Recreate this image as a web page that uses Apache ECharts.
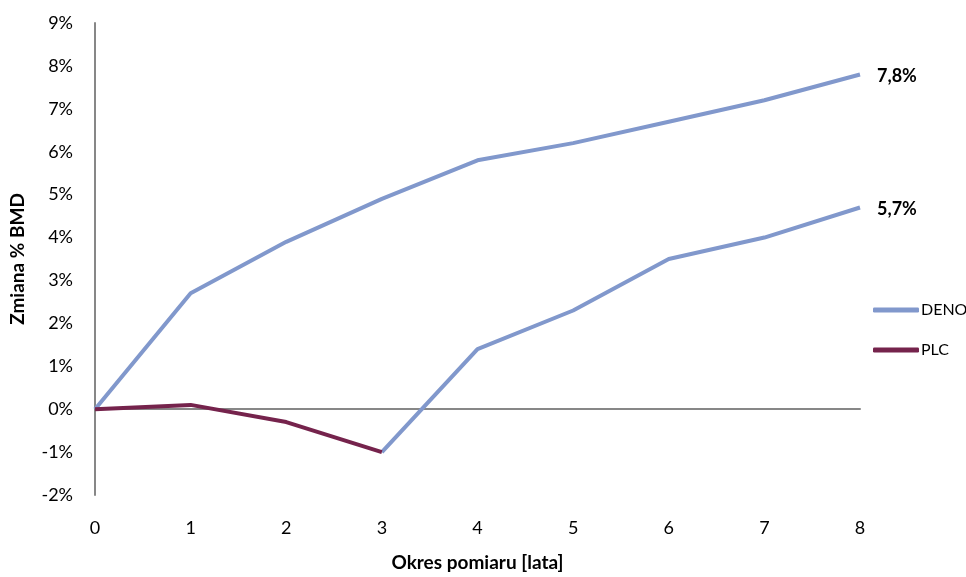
<!DOCTYPE html>
<html>
<head>
<meta charset="utf-8">
<script src="https://cdn.jsdelivr.net/npm/echarts@6/dist/echarts.min.js"></script>
<style>
  html, body { margin: 0; padding: 0; background: #fff; }
  #chart { width: 966px; height: 577px; }
</style>
</head>
<body>
<div id="chart"></div>
<script>
// Measurement years
const years = [0, 1, 2, 3, 4, 5, 6, 7, 8];
// % change in BMD, long-term denosumab group
const denoLongTerm = [0, 2.7, 3.9, 4.9, 5.8, 6.2, 6.7, 7.2, 7.8];
// % change in BMD, crossover group after switching to denosumab (from year 3)
const denoCrossover = [null, null, null, -1.0, 1.4, 2.3, 3.5, 4.0, 4.7];
// % change in BMD, placebo phase
const placebo = [0, 0.1, -0.3, -1.0, null, null, null, null, null];
// Y axis tick range
const yMin = -2, yMax = 9, yStep = 1;

const FONT = 'Lato, "Liberation Sans", sans-serif';
const BLUE = '#8198CC';
const MAROON = '#75234C';
const AXIS_GREY = '#878787';

function pairs(vals) {
  return years.map((x, i) => [x, vals[i]]).filter(p => p[1] !== null);
}

// Gain over each series' own starting point, shown at its end
function gainLabel(pts) {
  const first = pts[0][1];
  return {
    show: true,
    distance: 17,
    fontFamily: FONT,
    fontSize: 18,
    fontWeight: 'bold',
    color: '#000',
    offset: [0, 2],
    formatter: p => (p.value[1] - first).toFixed(1).replace('.', ',') + '%'
  };
}

const longPts = pairs(denoLongTerm);
const crossPts = pairs(denoCrossover);
const plcPts = pairs(placebo);

const chart = echarts.init(document.getElementById('chart'), null, { renderer: 'canvas' });

const lineBase = {
  type: 'line',
  showSymbol: false,
  symbol: 'none',
  smooth: false,
  animation: false
};

chart.setOption({
  backgroundColor: '#fff',
  animation: false,
  grid: { left: 95, right: 106, top: 23, bottom: 79, containLabel: false },
  legend: {
    orient: 'vertical',
    left: 868,
    top: 297,
    icon: 'roundRect',
    itemWidth: 46,
    itemHeight: 5,
    itemGap: 24,
    data: ['DENO', 'PLC'],
    textStyle: { fontFamily: FONT, fontSize: 16, color: '#000', padding: [0, 0, 0, -3] }
  },
  xAxis: [
    {
      type: 'value',
      min: 0, max: 8, interval: 1,
      position: 'bottom',
      axisLine: { show: false, onZero: false },
      axisTick: { show: false },
      splitLine: { show: false },
      axisLabel: { fontFamily: FONT, fontSize: 18, color: '#000', margin: 24 },
      name: 'Okres pomiaru [lata]',
      nameLocation: 'middle',
      nameGap: 58,
      nameTextStyle: { fontFamily: FONT, fontSize: 19, fontWeight: 'bold', color: '#000' }
    },
    {
      type: 'value',
      min: 0, max: 8, interval: 1,
      axisLine: { show: true, onZero: true, lineStyle: { color: AXIS_GREY, width: 2 } },
      axisTick: { show: false },
      axisLabel: { show: false },
      splitLine: { show: false }
    }
  ],
  yAxis: {
    type: 'value',
    min: yMin, max: yMax, interval: yStep,
    axisLine: { show: true, onZero: false, lineStyle: { color: AXIS_GREY, width: 2 } },
    axisTick: { show: false },
    splitLine: { show: false },
    axisLabel: {
      fontFamily: FONT, fontSize: 18, color: '#000', margin: 22,
      formatter: v => v + '%'
    },
    name: 'Zmiana % BMD',
    nameLocation: 'middle',
    nameGap: 68,
    nameRotate: 90,
    nameTextStyle: { fontFamily: FONT, fontSize: 19, fontWeight: 'bold', color: '#000' }
  },
  series: [
    Object.assign({}, lineBase, {
      name: 'DENO',
      data: longPts,
      z: 3,
      lineStyle: { color: BLUE, width: 4 },
      itemStyle: { color: BLUE },
      endLabel: gainLabel(longPts)
    }),
    Object.assign({}, lineBase, {
      name: 'DENO',
      data: crossPts,
      z: 3,
      lineStyle: { color: BLUE, width: 4 },
      itemStyle: { color: BLUE },
      endLabel: gainLabel(crossPts)
    }),
    Object.assign({}, lineBase, {
      name: 'PLC',
      data: plcPts,
      z: 4,
      lineStyle: { color: MAROON, width: 4 },
      itemStyle: { color: MAROON }
    })
  ]
});
</script>
</body>
</html>
